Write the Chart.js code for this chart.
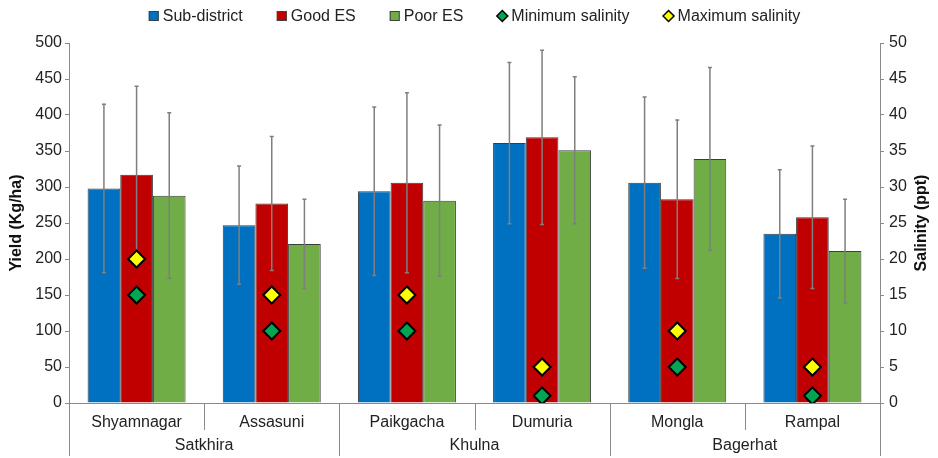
<!DOCTYPE html>
<html><head><meta charset="utf-8">
<script src="https://cdn.jsdelivr.net/npm/chart.js@4.4.1/dist/chart.umd.min.js"></script>
<style>html,body{margin:0;padding:0;background:#fff}#wrap{width:938px;height:458px;position:relative}</style>
</head><body><div id="wrap"><canvas id="c"></canvas></div>
<script>
const categories = ['Shyamnagar','Assasuni','Paikgacha','Dumuria','Mongla','Rampal'];
const districts = ['Satkhira','Khulna','Bagerhat'];
const districtSizes = [2, 2, 2];
const subDistrictYield = [298, 247, 294, 361, 306, 235];
const subDistrictErr  = [117, 82, 117, 112, 119, 89];
const goodYield = [317, 277, 306, 369, 283, 258];
const goodErr   = [123, 93, 125, 121, 110, 99];
const poorYield = [288, 221, 281, 351, 339, 211];
const poorErr   = [115, 62, 105, 102, 127, 72];
const minSalinity = [15, 10, 10, 1, 5, 1];
const maxSalinity = [20, 15, 15, 5, 10, 5];
const yieldTicks = [0, 50, 100, 150, 200, 250, 300, 350, 400, 450, 500];
const salinityTicks = [0, 5, 10, 15, 20, 25, 30, 35, 40, 45, 50];
const leftTitle = 'Yield (Kg/ha)';
const rightTitle = 'Salinity (ppt)';

const FONT = "'Liberation Sans', Arial, sans-serif";
const AXIS = '#8a8a8a';

const errorBars = {
  id: 'errorBars',
  afterDatasetDraw(chart, args) {
    const ds = chart.data.datasets[args.index];
    if (!ds.errors) return;
    const y = chart.scales.y, ctx = chart.ctx;
    ctx.save();
    ctx.strokeStyle = '#7f7f7f';
    ctx.lineWidth = 1.5;
    args.meta.data.forEach((bar, i) => {
      const v = ds.data[i], e = ds.errors[i];
      const yt = y.getPixelForValue(v + e), yb = y.getPixelForValue(v - e);
      ctx.beginPath();
      ctx.moveTo(bar.x, yt); ctx.lineTo(bar.x, yb);
      ctx.moveTo(bar.x - 2, yt); ctx.lineTo(bar.x + 2, yt);
      ctx.moveTo(bar.x - 2, yb); ctx.lineTo(bar.x + 2, yb);
      ctx.stroke();
    });
    ctx.restore();
  }
};

const groupAxis = {
  id: 'groupAxis',
  afterDraw(chart) {
    const x = chart.scales.x, ctx = chart.ctx, a = chart.chartArea;
    const n = categories.length;
    const edge = i => {
      if (i <= 0) return a.left;
      if (i >= n) return a.right;
      return (x.getPixelForTick(i - 1) + x.getPixelForTick(i)) / 2;
    };
    ctx.save();
    ctx.strokeStyle = AXIS; ctx.lineWidth = 1;
    const boundaries = new Set([0]);
    let acc = 0;
    districtSizes.forEach(s => { acc += s; boundaries.add(acc); });
    for (let i = 0; i <= n; i++) {
      const px = Math.round(edge(i)) + 0.5;
      ctx.beginPath();
      ctx.moveTo(px, a.bottom);
      ctx.lineTo(px, boundaries.has(i) ? a.bottom + 53 : a.bottom + 27);
      ctx.stroke();
    }
    ctx.fillStyle = '#222';
    ctx.font = '16px ' + FONT;
    ctx.textAlign = 'center'; ctx.textBaseline = 'middle';
    let start = 0;
    districts.forEach((d, k) => {
      const cx = (edge(start) + edge(start + districtSizes[k])) / 2;
      ctx.fillText(d, cx, a.bottom + 43);
      start += districtSizes[k];
    });
    // axis titles, both reading bottom-to-top
    ctx.fillStyle = '#111';
    ctx.font = 'bold 16px ' + FONT;
    const cy = (a.top + a.bottom) / 2;
    [[leftTitle, 17], [rightTitle, 922]].forEach(([t, tx]) => {
      ctx.save();
      ctx.translate(tx, cy);
      ctx.rotate(-Math.PI / 2);
      ctx.fillText(t, 0, 0);
      ctx.restore();
    });
    ctx.restore();
  }
};

const customLegend = {
  id: 'customLegend',
  afterDraw(chart) {
    const ctx = chart.ctx, a = chart.chartArea;
    const items = chart.data.datasets.map(ds => ({
      text: ds.label, color: ds.backgroundColor, diamond: ds.type === 'line'
    }));
    ctx.save();
    ctx.font = '16px ' + FONT;
    const box = 10, gap = 4, spacing = 34;
    const widths = items.map(it => box + gap + ctx.measureText(it.text).width);
    const total = widths.reduce((s, w) => s + w, 0) + spacing * (items.length - 1);
    let x = (a.left + a.right) / 2 - total / 2;
    const yc = 16;
    ctx.textBaseline = 'middle'; ctx.textAlign = 'left';
    items.forEach((it, i) => {
      ctx.fillStyle = it.color;
      ctx.strokeStyle = it.diamond ? '#000' : '#404040';
      ctx.lineWidth = 1;
      if (it.diamond) {
        const cx = x + box / 2, r = 5.5;
        ctx.beginPath();
        ctx.moveTo(cx, yc - r); ctx.lineTo(cx + r, yc); ctx.lineTo(cx, yc + r); ctx.lineTo(cx - r, yc);
        ctx.closePath(); ctx.fill(); ctx.lineWidth = 1.5; ctx.stroke();
      } else {
        ctx.fillRect(x, yc - box / 2, box, box);
        ctx.strokeRect(x + 0.5, yc - box / 2 + 0.5, box - 1, box - 1);
      }
      ctx.fillStyle = '#222';
      ctx.fillText(it.text, x + box + gap, yc + 1);
      x += widths[i] + spacing;
    });
    ctx.restore();
  }
};

const barCommon = { borderColor: '#3c3c3c', borderWidth: 1, categoryPercentage: 0.725, barPercentage: 1.0, order: 2, yAxisID: 'y' };
const diamondCommon = { type: 'line', showLine: false, yAxisID: 'y1', pointStyle: 'rectRot', pointRadius: 8.5, pointHoverRadius: 8.5, borderColor: '#000', pointBorderColor: '#000', pointBorderWidth: 2, order: 1 };

new Chart(document.getElementById('c'), {
  type: 'bar',
  data: {
    labels: categories,
    datasets: [
      Object.assign({ label: 'Sub-district', data: subDistrictYield, errors: subDistrictErr, backgroundColor: '#0070C0' }, barCommon),
      Object.assign({ label: 'Good ES', data: goodYield, errors: goodErr, backgroundColor: '#C00000' }, barCommon),
      Object.assign({ label: 'Poor ES', data: poorYield, errors: poorErr, backgroundColor: '#70AD47' }, barCommon),
      Object.assign({ label: 'Minimum salinity', data: minSalinity, backgroundColor: '#00A651', pointBackgroundColor: '#00A651' }, diamondCommon),
      Object.assign({ label: 'Maximum salinity', data: maxSalinity, backgroundColor: '#FFFF00', pointBackgroundColor: '#FFFF00' }, diamondCommon)
    ]
  },
  options: {
    responsive: true, maintainAspectRatio: false, animation: false, devicePixelRatio: 1,
    layout: { padding: { top: 43, left: 0, right: 0, bottom: 0 } },
    plugins: { legend: { display: false }, tooltip: { enabled: false } },
    scales: {
      x: {
        offset: true,
        grid: { display: false, drawTicks: false },
        border: { display: true, color: AXIS, width: 1 },
        ticks: { font: { family: FONT, size: 16 }, color: '#222', padding: 10, maxRotation: 0, autoSkip: false },
        afterFit: s => { s.height = 55; }
      },
      y: {
        position: 'left', min: 0, max: 500,
        afterBuildTicks: s => { s.ticks = yieldTicks.map(v => ({ value: v })); },
        grid: { drawOnChartArea: false, drawTicks: true, tickLength: 4, color: AXIS },
        border: { display: true, color: AXIS, width: 1 },
        ticks: { font: { family: FONT, size: 16 }, color: '#222', padding: 3 },
        title: { display: false },
        afterFit: s => { s.width = 69; }
      },
      y1: {
        position: 'right', min: 0, max: 50,
        afterBuildTicks: s => { s.ticks = salinityTicks.map(v => ({ value: v })); },
        grid: { drawOnChartArea: false, drawTicks: true, tickLength: 4, color: AXIS },
        border: { display: true, color: AXIS, width: 1 },
        ticks: { font: { family: FONT, size: 16 }, color: '#222', padding: 5 },
        title: { display: false },
        afterFit: s => { s.width = 58; }
      }
    }
  },
  plugins: [errorBars, groupAxis, customLegend]
});
</script>
</body></html>
